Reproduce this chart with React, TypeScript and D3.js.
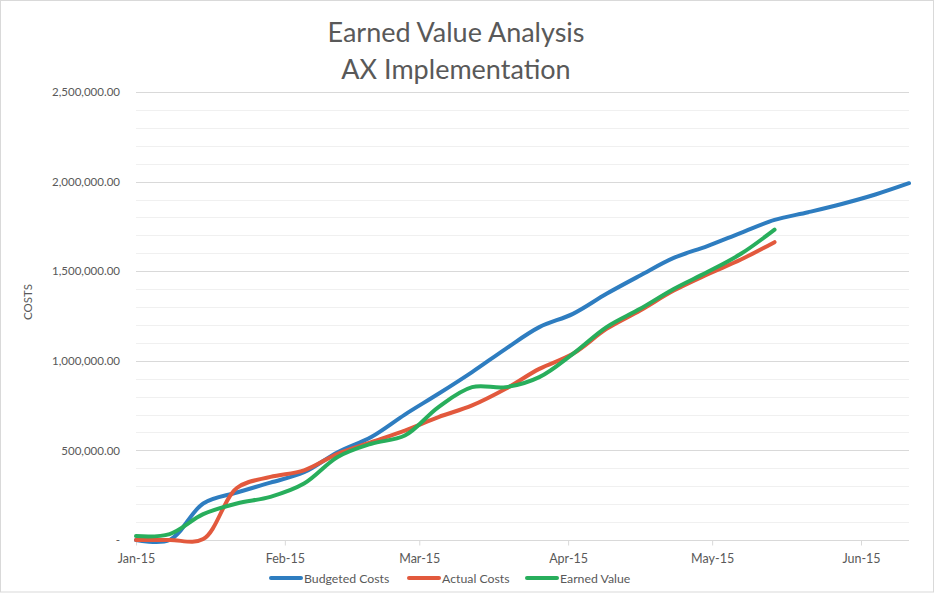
import { useEffect, useRef } from "react";
import * as d3 from "d3";

// weekly snapshots starting Jan 1 2015
const START = new Date(2015, 0, 1);
const WEEKS = 24;

const budgeted = [
  0, 0, 204000, 265000, 320000, 378000, 490000, 575000, 700000, 816000, 937000, 1067000,
  1188000, 1262000, 1374000, 1476000, 1574000, 1640000, 1714000, 1786000, 1829000, 1875000,
  1928000, 1991000,
];
const actual = [
  0, 0, 5000, 290000, 352000, 389000, 481000, 546000, 611000, 686000, 751000, 844000, 955000,
  1039000, 1178000, 1281000, 1392000, 1482000, 1565000, 1662000,
];
const earned = [
  22000, 33000, 144000, 204000, 241000, 315000, 463000, 537000, 583000, 742000, 853000, 853000,
  909000, 1039000, 1188000, 1290000, 1401000, 1495000, 1597000, 1732000,
];

const SERIES = [
  { name: "Budgeted Costs", values: budgeted, color: "#2E7DC0" },
  { name: "Actual Costs", values: actual, color: "#E2593D" },
  { name: "Earned Value", values: earned, color: "#28AE5C" },
];

const TITLE = ["Earned Value Analysis", "AX Implementation"];
const FONT = "Lato, 'Open Sans', sans-serif";

export default function App() {
  const svgRef = useRef<SVGSVGElement>(null);

  useEffect(() => {
    if (!svgRef.current) return;
    const W = 937;
    const H = 593;
    const svg = d3.select(svgRef.current);
    svg.selectAll("*").remove();

    const dates = d3.range(WEEKS).map((i) => d3.timeDay.offset(START, i * 7));

    const x = d3.scaleTime().domain([dates[0], dates[WEEKS - 1]]).range([136, 909]);
    const y = d3.scaleLinear().domain([0, 2500000]).range([540, 92]);

    // outer border
    svg.append("rect")
      .attr("x", 0.5).attr("y", 0.5)
      .attr("width", 933).attr("height", 591.5)
      .attr("fill", "#fff").attr("stroke", "#d9d9d9");

    // title
    svg.append("g")
      .selectAll("text")
      .data(TITLE)
      .join("text")
      .attr("x", 456)
      .attr("y", (_, i) => 42 + i * 37)
      .attr("text-anchor", "middle")
      .attr("fill", "#595959")
      .attr("font-family", FONT)
      .attr("font-size", "27px")
      .text((d) => d);

    // gridlines
    const minor = d3.range(0, 2500001, 100000);
    svg.append("g")
      .selectAll("line")
      .data(minor)
      .join("line")
      .attr("x1", x.range()[0]).attr("x2", x.range()[1])
      .attr("y1", (d) => Math.round(y(d)) + 0.5)
      .attr("y2", (d) => Math.round(y(d)) + 0.5)
      .attr("stroke", (d) => (d % 500000 === 0 ? "#d9d9d9" : "#f0f0f0"))
      .attr("stroke-width", 1);

    // y axis labels
    const yAxis = svg.append("g")
      .attr("transform", `translate(${x.range()[0]},0)`)
      .call(
        d3.axisLeft(y)
          .tickValues(d3.range(0, 2500001, 500000))
          .tickSize(0)
          .tickPadding(16)
          .tickFormat((d) => (+d === 0 ? "-" : d3.format(",.2f")(+d)))
      );
    yAxis.select(".domain").remove();
    yAxis.selectAll(".tick text")
      .attr("fill", "#595959")
      .attr("font-family", FONT)
      .attr("font-size", "11.5px");

    svg.append("text")
      .attr("transform", "translate(32,302) rotate(-90)")
      .attr("text-anchor", "middle")
      .attr("fill", "#595959")
      .attr("font-family", FONT)
      .attr("font-size", "11.5px")
      .text("COSTS");

    // x axis
    const xAxis = svg.append("g")
      .attr("transform", `translate(0,${Math.round(y(0)) + 0.5})`)
      .call(
        d3.axisBottom(x)
          .ticks(d3.timeMonth.every(1))
          .tickSize(5)
          .tickPadding(9)
          .tickFormat((d) => d3.timeFormat("%b-%y")(d as Date))
      );
    xAxis.select(".domain").attr("stroke", "#d9d9d9").attr("d", `M${x.range()[0]},0H${x.range()[1]}`);
    xAxis.selectAll(".tick line").attr("stroke", "#d9d9d9");
    xAxis.selectAll(".tick text")
      .attr("fill", "#595959")
      .attr("font-family", FONT)
      .attr("font-size", "12.5px");

    // series lines
    const line = d3.line<number>()
      .x((_, i) => x(dates[i]))
      .y((d) => y(d))
      .curve(d3.curveCatmullRom.alpha(0.5));

    svg.append("g")
      .selectAll("path")
      .data(SERIES)
      .join("path")
      .attr("d", (s) => line(s.values))
      .attr("fill", "none")
      .attr("stroke", (s) => s.color)
      .attr("stroke-width", 4)
      .attr("stroke-linecap", "round")
      .attr("stroke-linejoin", "round");

    // legend
    const legendX = [271, 409, 527];
    const legend = svg.append("g").attr("transform", "translate(0,578)");
    SERIES.forEach((s, i) => {
      legend.append("line")
        .attr("x1", legendX[i]).attr("x2", legendX[i] + 30)
        .attr("y1", 0).attr("y2", 0)
        .attr("stroke", s.color)
        .attr("stroke-width", 4)
        .attr("stroke-linecap", "round");
      legend.append("text")
        .attr("x", legendX[i] + 33)
        .attr("y", 4.5)
        .attr("fill", "#595959")
        .attr("font-family", FONT)
        .attr("font-size", "12.3px")
        .text(s.name);
    });

    svg.attr("width", W).attr("height", H);
  }, []);

  return (
    <svg
      ref={svgRef}
      width={937}
      height={593}
      style={{ position: "absolute", left: 0, top: 0, background: "#fff" }}
    />
  );
}
